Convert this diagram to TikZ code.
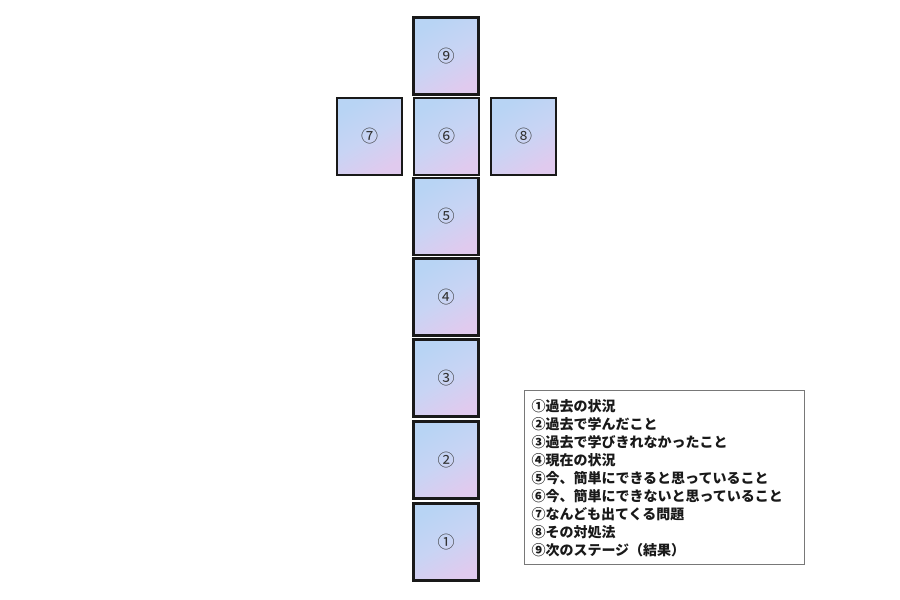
\documentclass[tikz,border=0pt]{standalone}
\usepackage{fontspec}
\newfontfamily\jp{Noto Sans CJK JP}
\usetikzlibrary{positioning}
\definecolor{cellblue}{RGB}{184,212,244}
\definecolor{cellpink}{RGB}{224,202,238}
\definecolor{cellmid}{RGB}{200,212,244}
\definecolor{numgray}{RGB}{50,50,50}
\definecolor{legendframe}{RGB}{120,120,120}
\tikzset{
  cell/.style={draw=black!90, line width=2.2pt, minimum width=65pt, minimum height=77pt,
    inner sep=0pt, left color=cellblue, right color=cellpink, middle color=cellmid,
    shading angle=30, font=\jp\fontsize{17}{17}\selectfont, text=numgray},
  legend/.style={draw=legendframe, line width=1pt, fill=white, align=left, anchor=north west,
    inner xsep=7pt, inner ysep=8.5pt, text width=266pt,
    font=\jp\bfseries\fontsize{14}{18}\selectfont, text=black!90}
}
\begin{document}
\begin{tikzpicture}[x=1pt,y=-1pt]
\useasboundingbox (0,0) rectangle (900,600);
\node[cell] (c9) at (446,56) {⑨};
\node[cell] (c7) at (369.5,136.5) {⑦};
\node[cell] (c6) at (446.5,136.5) {⑥};
\node[cell] (c8) at (523.5,136.5) {⑧};
\node[cell] (c5) at (446,216.5) {⑤};
\node[cell] (c4) at (446,297) {④};
\node[cell] (c3) at (446,378) {③};
\node[cell] (c2) at (446,460) {②};
\node[cell] (c1) at (446,542) {①};
\node[legend] (lg) at (524,390) {①過去の状況\\
②過去で学んだこと\\
③過去で学びきれなかったこと\\
④現在の状況\\
⑤今、簡単にできると思っていること\\
⑥今、簡単にできないと思っていること\\
⑦なんども出てくる問題\\
⑧その対処法\\
⑨次のステージ（結果）};
\end{tikzpicture}
\end{document}
